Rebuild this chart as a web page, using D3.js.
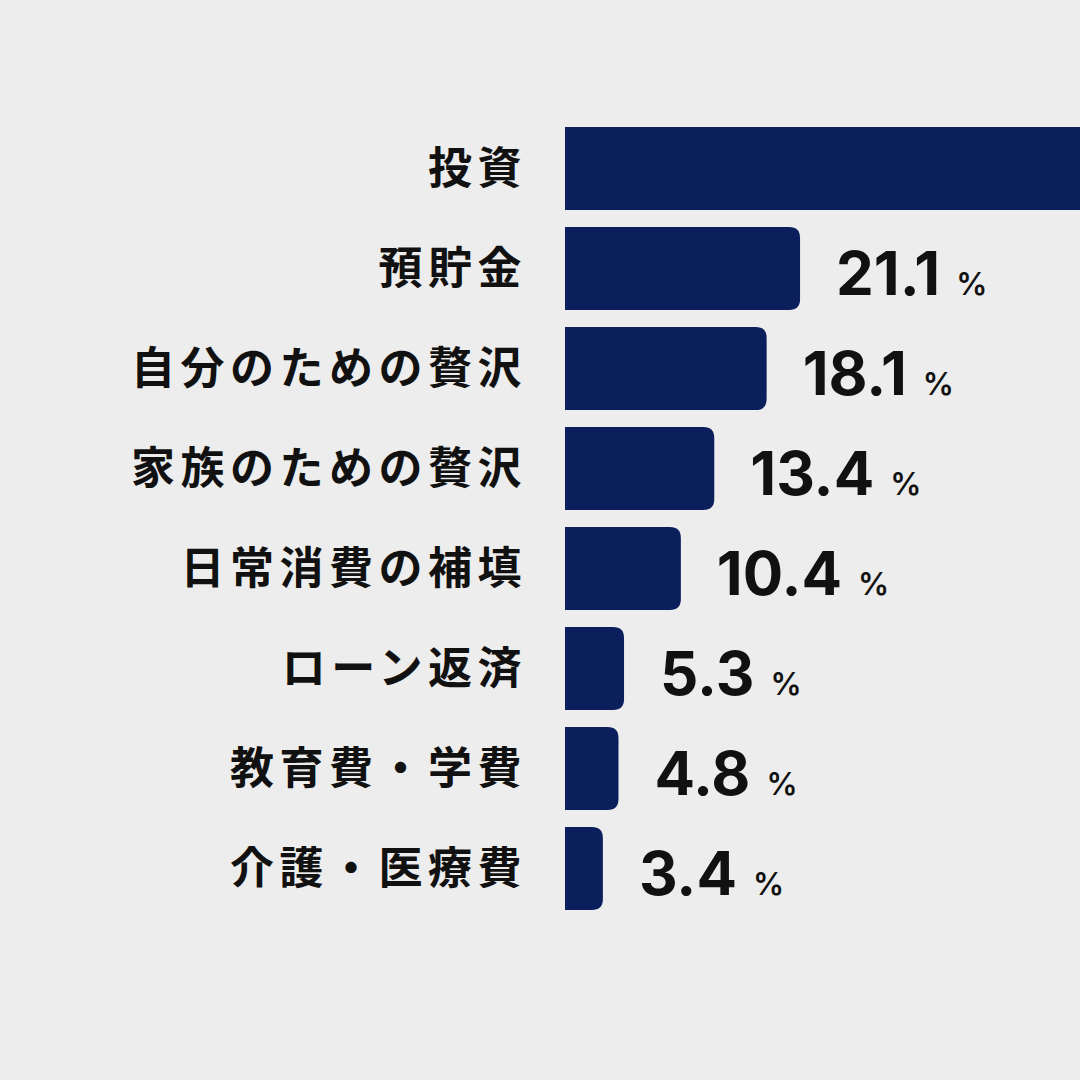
<!DOCTYPE html>
<html>
<head>
<meta charset="utf-8">
<script src="https://cdn.jsdelivr.net/npm/d3@7"></script>
<style>
  html, body { margin: 0; padding: 0; background: #ededed; }
</style>
</head>
<body>
<div id="chart"></div>
<script>
// data
var categories = ["投資", "預貯金", "自分のための贅沢", "家族のための贅沢", "日常消費の補填", "ローン返済", "教育費・学費", "介護・医療費"];
var values = [50.0, 21.1, 18.1, 13.4, 10.4, 5.3, 4.8, 3.4];

var W = 1080, H = 1080;
var left = 565;

var svg = d3.select("#chart")
    .append("svg")
    .attr("width", W)
    .attr("height", H)
    .style("display", "block");

svg.append("rect").attr("width", W).attr("height", H).attr("fill", "#ededed");

var xScale = d3.scaleLinear()
    .domain([0, 50])
    .range([0, 557]);

var yScale = d3.scaleBand()
    .domain(categories)
    .range([127, 910])
    .paddingInner(0.17)
    .paddingOuter(0);

var data = categories.map(function (c, i) { return { cat: c, val: values[i] }; });

// bar with square left end and rounded right end
function barPath(x0, y0, w, h, r) {
    r = Math.min(r, w / 2, h / 2);
    return "M" + x0 + "," + y0 +
        "H" + (x0 + w - r) +
        "Q" + (x0 + w) + "," + y0 + " " + (x0 + w) + "," + (y0 + r) +
        "V" + (y0 + h - r) +
        "Q" + (x0 + w) + "," + (y0 + h) + " " + (x0 + w - r) + "," + (y0 + h) +
        "H" + x0 + "Z";
}

svg.selectAll("path.bar")
    .data(data)
    .enter()
    .append("path")
    .attr("class", "bar")
    .attr("fill", "#0a1f5c")
    .attr("d", function (d) {
        return barPath(left, yScale(d.cat), xScale(d.val), yScale.bandwidth(), 11);
    });

// category labels
svg.selectAll("text.cat")
    .data(data)
    .enter()
    .append("text")
    .attr("class", "cat")
    .attr("x", 527)
    .attr("y", function (d) { return yScale(d.cat) + yScale.bandwidth() / 2; })
    .attr("dy", "0.36em")
    .attr("text-anchor", "end")
    .style("font-family", "'Noto Sans CJK JP', sans-serif")
    .style("font-weight", 700)
    .style("font-size", "44px")
    .style("letter-spacing", "5.5px")
    .style("fill", "#111")
    .text(function (d) { return d.cat; });

// value labels (the first bar runs off the page, so its label is not shown)
var vl = svg.selectAll("text.val")
    .data(data.filter(function (d) { return left + xScale(d.val) + 36 < W - 150; }))
    .enter()
    .append("text")
    .attr("class", "val")
    .attr("x", function (d) { return left + xScale(d.val) + 36; })
    .attr("y", function (d) { return yScale(d.cat) + yScale.bandwidth() / 2 + 26; })
    .style("font-family", "Inter, sans-serif")
    .style("font-weight", 700)
    .style("fill", "#111");

vl.append("tspan")
    .style("font-size", "60px")
    .text(function (d) { return d.val.toFixed(1); });

vl.append("tspan")
    .attr("dx", 16)
    .style("font-size", "31px")
    .style("font-weight", 600)
    .text("%");
</script>
</body>
</html>
